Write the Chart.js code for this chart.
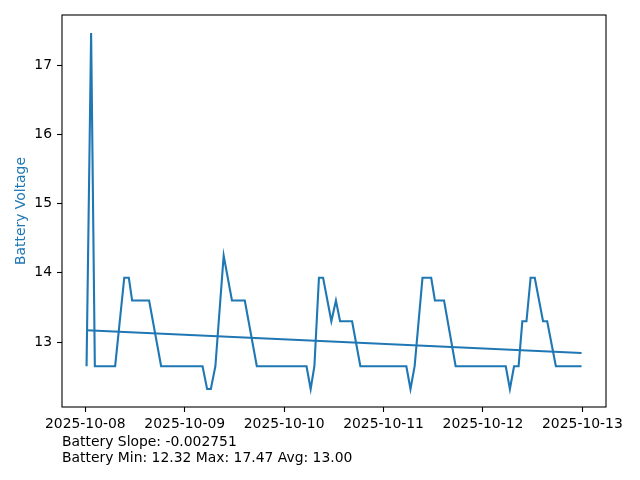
<!DOCTYPE html>
<html>
<head>
<meta charset="utf-8">
<script src="https://cdn.jsdelivr.net/npm/chart.js@4"></script>
<style>
  html, body { margin: 0; padding: 0; background: #fff; }
  #wrap { width: 640px; height: 480px; }
</style>
</head>
<body>
<div id="wrap"><canvas id="myChart" width="640" height="480"></canvas></div>
<script>
// hours since 2025-10-08 00:00
const batteryHours = [0.3, 1.4, 2.3, 7.2, 9.4, 10.5, 11.3, 15.4, 18.3, 28.3,
  29.4, 30.3, 31.4, 33.4, 35.4, 38.5, 41.4, 53.4, 54.4, 55.3,
  56.4, 57.4, 59.4, 60.5, 61.5, 64.4, 66.4, 77.5, 78.5, 79.5,
  81.4, 83.5, 84.4, 86.6, 89.4, 101.5, 102.5, 103.5, 104.6, 105.5,
  106.5, 107.5, 108.5, 110.5, 111.5, 113.6, 119.8];
const batteryVolts = [12.65, 17.47, 12.65, 12.65, 13.93, 13.93, 13.6, 13.6, 12.65, 12.65,
  12.32, 12.32, 12.65, 14.25, 13.6, 13.6, 12.65, 12.65, 12.32, 12.65,
  13.93, 13.93, 13.3, 13.6, 13.3, 13.3, 12.65, 12.65, 12.32, 12.65,
  13.93, 13.93, 13.6, 13.6, 12.65, 12.65, 12.32, 12.65, 12.65, 13.3,
  13.3, 13.93, 13.93, 13.3, 13.3, 12.65, 12.65];
const trendHours = [0.3, 119.8];
const trendVolts = [13.17, 12.84];
const tickHours = [0, 24, 48, 72, 96, 120];
const tickLabels = ["2025-10-08", "2025-10-09", "2025-10-10", "2025-10-11", "2025-10-12", "2025-10-13"];
const yTicks = [13, 14, 15, 16, 17];
const footerLines = ["Battery Slope: -0.002751", "Battery Min: 12.32 Max: 17.47 Avg: 13.00"];

const blue = "#1f77b4";
const font = { family: "'DejaVu Sans', sans-serif", size: 13.9 };

const toPoints = (xs, ys) => xs.map((x, i) => ({ x: x, y: ys[i] }));

// frame box + footer text, like the matplotlib figure
const extras = {
  id: "extras",
  afterDraw(chart) {
    const ctx = chart.ctx;
    const a = chart.chartArea;
    ctx.save();
    ctx.strokeStyle = "#000";
    ctx.lineWidth = 1.1;
    ctx.strokeRect(a.left, a.top, a.right - a.left, a.bottom - a.top);
    ctx.fillStyle = "#000";
    ctx.font = font.size + "px " + font.family;
    ctx.textBaseline = "middle";
    ctx.textAlign = "left";
    footerLines.forEach((t, i) => ctx.fillText(t, 62, 442 + i * 16));
    ctx.restore();
  },
};

const ctx = document.getElementById("myChart").getContext("2d");
new Chart(ctx, {
  type: "line",
  data: {
    datasets: [
      {
        label: "Battery Voltage",
        data: toPoints(batteryHours, batteryVolts),
        borderColor: blue,
        borderWidth: 2.1,
        pointRadius: 0,
        tension: 0,
      },
      {
        label: "Trend",
        data: toPoints(trendHours, trendVolts),
        borderColor: blue,
        borderWidth: 2.1,
        pointRadius: 0,
        tension: 0,
      },
    ],
  },
  options: {
    responsive: false,
    animation: false,
    layout: { padding: { top: 15, right: 34, left: 0, bottom: 0 } },
    plugins: { legend: { display: false }, tooltip: { enabled: false } },
    scales: {
      x: {
        type: "linear",
        min: -5.63,
        max: 125.7,
        afterFit: (scale) => { scale.height = 73; },
        afterBuildTicks: (scale) => { scale.ticks = tickHours.map((v) => ({ value: v })); },
        grid: { drawOnChartArea: false, drawTicks: true, tickLength: 5, color: "#000", tickWidth: 1.1 },
        border: { display: false },
        ticks: {
          color: "#000",
          font: font,
          padding: 4,
          maxRotation: 0,
          autoSkip: false,
          callback: (v) => tickLabels[tickHours.indexOf(v)],
        },
      },
      y: {
        type: "linear",
        min: 12.06,
        max: 17.73,
        afterFit: (scale) => { scale.width = 62; },
        afterBuildTicks: (scale) => { scale.ticks = yTicks.map((v) => ({ value: v })); },
        grid: { drawOnChartArea: false, drawTicks: true, tickLength: 5, color: "#000", tickWidth: 1.1 },
        border: { display: false },
        ticks: { color: "#000", font: font, padding: 5, callback: (v) => String(v) },
        title: {
          display: true,
          text: "Battery Voltage",
          color: blue,
          font: font,
          padding: { top: 13, bottom: 0 },
        },
      },
    },
  },
  plugins: [extras],
});
</script>
</body>
</html>
